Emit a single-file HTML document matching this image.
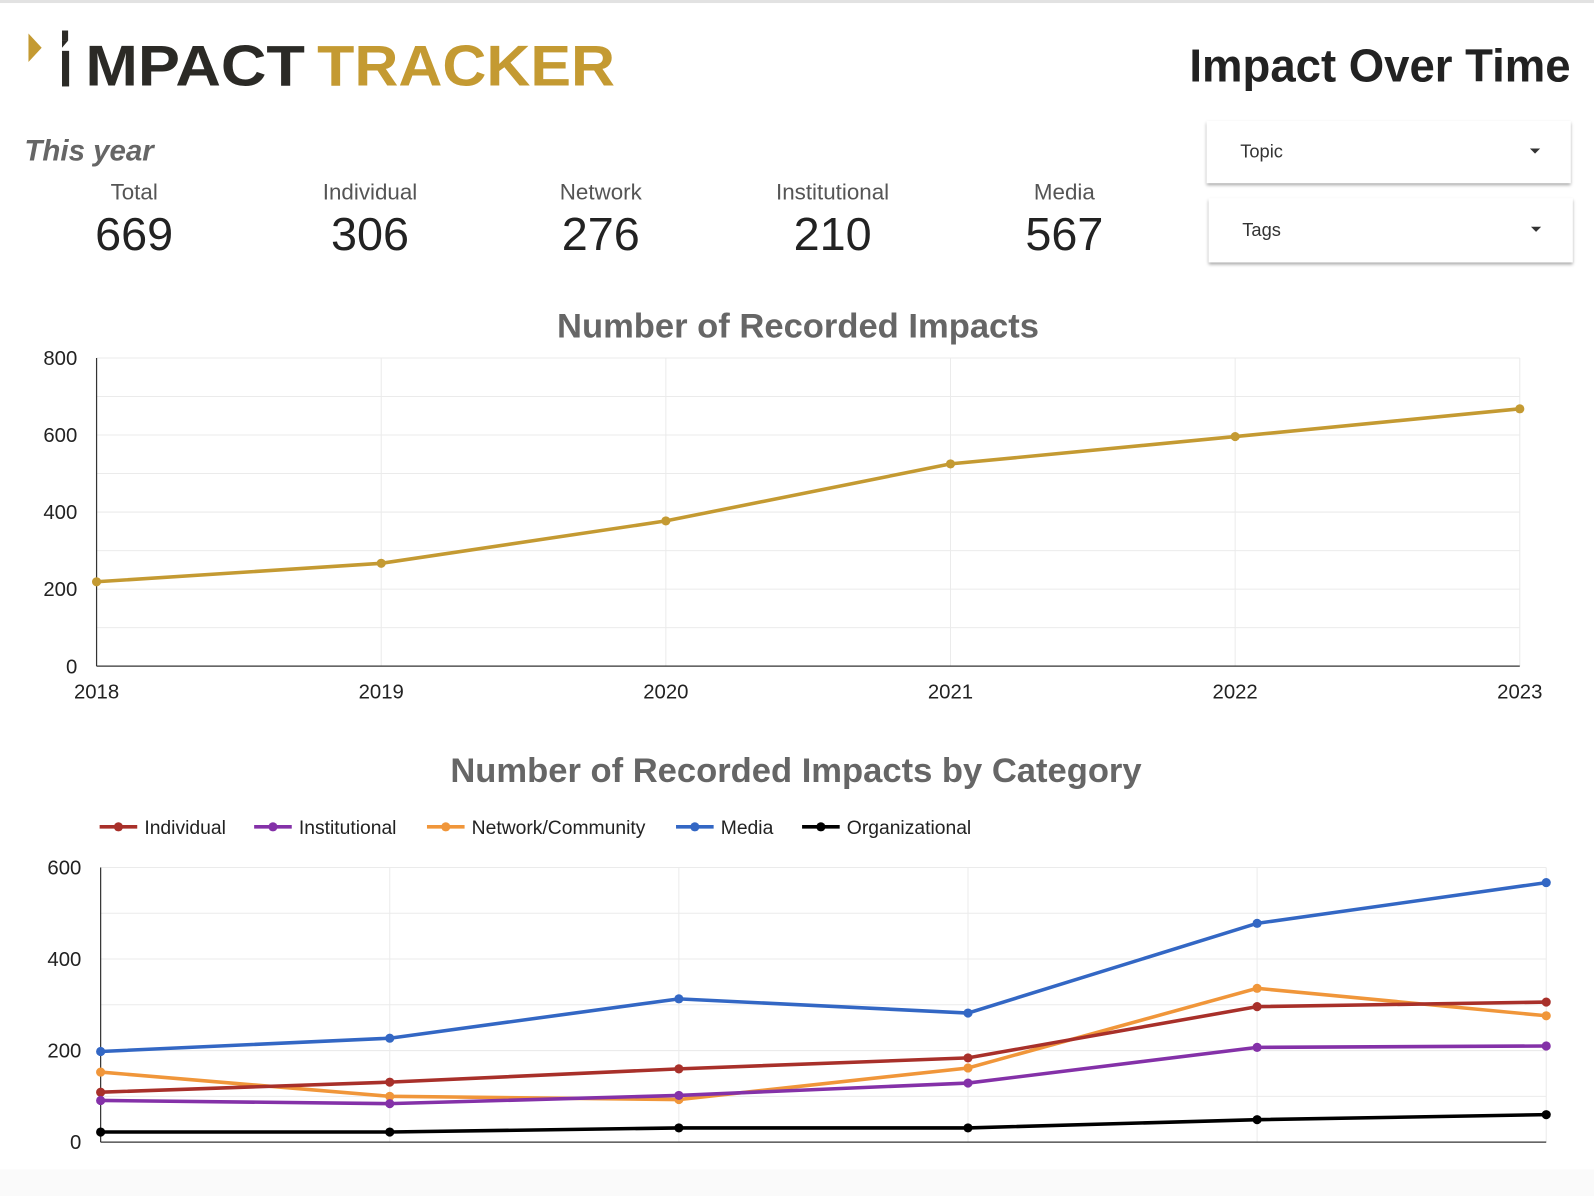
<!DOCTYPE html>
<html><head><meta charset="utf-8">
<style>
html,body{margin:0;padding:0;background:#fff;overflow:hidden;}
svg{display:block;font-family:"Liberation Sans",sans-serif;}
</style></head>
<body>
<svg id="page" width="1594" height="1196" viewBox="0 0 1568 1176" preserveAspectRatio="none" xmlns="http://www.w3.org/2000/svg">
<defs>
<filter id="sh" x="-5%" y="-20%" width="110%" height="150%"><feDropShadow dx="0" dy="2" stdDeviation="1.6" flood-color="#000" flood-opacity="0.35"/></filter>
</defs>
<rect x="0" y="0" width="1568" height="1176" fill="#fff"/>
<rect x="0" y="0" width="1568" height="3" fill="#e2e2e2"/>
<rect x="0" y="1150" width="1568" height="26" fill="#fafafa"/>

<g>
<polygon points="28,33 41,47 28,61" fill="#c49a32"/>
<rect x="61" y="30" width="6" height="10" fill="#2b2a26"/>
<polygon points="61,40 67,40 61,47 61,53 67,53 67,59 61,52" fill="#2b2a26"/>
<rect x="61" y="50" width="7" height="35" fill="#2b2a26"/>
<text x="84" y="84" font-size="57" font-weight="bold" fill="#2b2a26" textLength="216" lengthAdjust="spacingAndGlyphs">MPACT</text>
<text x="312" y="84" font-size="57" font-weight="bold" fill="#c49a32" textLength="293" lengthAdjust="spacingAndGlyphs">TRACKER</text>
</g>
<text x="1545" y="80" text-anchor="end" font-size="46" font-weight="bold" fill="#222" textLength="375" lengthAdjust="spacingAndGlyphs">Impact Over Time</text>
<text x="24" y="158" font-size="29" font-weight="bold" font-style="italic" fill="#666">This year</text>

<g><text x="132" y="196" text-anchor="middle" font-size="22" fill="#555">Total</text><text x="132" y="246" text-anchor="middle" font-size="46" fill="#222">669</text></g>
<g><text x="364" y="196" text-anchor="middle" font-size="22" fill="#555">Individual</text><text x="364" y="246" text-anchor="middle" font-size="46" fill="#222">306</text></g>
<g><text x="591" y="196" text-anchor="middle" font-size="22" fill="#555">Network</text><text x="591" y="246" text-anchor="middle" font-size="46" fill="#222">276</text></g>
<g><text x="819" y="196" text-anchor="middle" font-size="22" fill="#555">Institutional</text><text x="819" y="246" text-anchor="middle" font-size="46" fill="#222">210</text></g>
<g><text x="1047" y="196" text-anchor="middle" font-size="22" fill="#555">Media</text><text x="1047" y="246" text-anchor="middle" font-size="46" fill="#222">567</text></g>

<g>
<rect x="1187" y="119" width="358" height="61" fill="#fff" filter="url(#sh)"/>
<text x="1220" y="155" font-size="18" fill="#333">Topic</text>
<polygon points="1505,146 1515,146 1510,151" fill="#333"/>
</g>
<g>
<rect x="1189" y="195" width="358" height="63" fill="#fff" filter="url(#sh)"/>
<text x="1222" y="232" font-size="18" fill="#333">Tags</text>
<polygon points="1506,223 1516,223 1511,228" fill="#333"/>
</g>

<text x="785" y="332" text-anchor="middle" font-size="34" font-weight="bold" fill="#666">Number of Recorded Impacts</text>
<g id="c1"></g>

<text x="783" y="769" text-anchor="middle" font-size="34" font-weight="bold" fill="#666">Number of Recorded Impacts by Category</text>
<g id="legend"></g>
<g id="c2"></g>
</svg>
<script>
const years = ["2018","2019","2020","2021","2022","2023"];
const totalValues = [219, 267, 377, 525, 596, 668];
const totalTicks = [0, 200, 400, 600, 800];
const catNames = ["Individual","Institutional","Network/Community","Media","Organizational"];
const individualValues = [109, 131, 160, 184, 296, 306];
const institutionalValues = [91, 84, 102, 129, 207, 210];
const networkValues = [153, 100, 93, 162, 336, 276];
const mediaValues = [198, 227, 313, 282, 478, 567];
const organizationalValues = [22, 22, 31, 31, 49, 60];
const catTicks = [0, 200, 400, 600];

const NS = "http://www.w3.org/2000/svg";
function mk(parent, tag, attrs){const e=document.createElementNS(NS,tag);for(const k in attrs)e.setAttribute(k,attrs[k]);parent.appendChild(e);return e;}

// Chart 1
(function(){
  const g=document.getElementById('c1');
  const x0=95,x1=1495,y0=655,y1=352,max=800;
  const xs=i=>x0+(x1-x0)*i/(years.length-1);
  const ys=v=>y0-(y0-y1)*v/max;
  for(let v=100;v<=max;v+=100){const l=mk(g,'line',{x1:x0,x2:x1,y1:ys(v),y2:ys(v),stroke:'#ebebeb','stroke-width':1});
  
  }
  years.forEach((y,i)=>{if(i>0){const l=mk(g,'line',{x1:xs(i),x2:xs(i),y1:y1,y2:y0,stroke:'#ebebeb'});
  
  }
  const t=mk(g,'text',{x:xs(i),y:687,'text-anchor':'middle','font-size':20,fill:'#222'});t.textContent=y;
  
  });
  totalTicks.forEach(v=>{const t=mk(g,'text',{x:76,y:ys(v)+7,'text-anchor':'end','font-size':20,fill:'#222'});t.textContent=v;
  
  });
  mk(g,'line',{x1:x0,x2:x0,y1:y1,y2:y0,stroke:'#333','stroke-width':1.2});
  mk(g,'line',{x1:x0,x2:x1,y1:y0,y2:y0,stroke:'#333','stroke-width':1.2});
  const p=mk(g,'polyline',{points:totalValues.map((v,i)=>xs(i)+','+ys(v)).join(' '),fill:'none',stroke:'#c49a32','stroke-width':3.5});
  
  
  totalValues.forEach((v,i)=>{const c=mk(g,'circle',{cx:xs(i),cy:ys(v),r:4.5,fill:'#c49a32'});
  
  });
})();

// Chart 2
(function(){
  const g=document.getElementById('c2');
  const x0=99,x1=1521,y0=1123,y1=853,max=600;
  const xs=i=>x0+(x1-x0)*i/(years.length-1);
  const ys=v=>y0-(y0-y1)*v/max;
  for(let v=100;v<=max;v+=100){const l=mk(g,'line',{x1:x0,x2:x1,y1:ys(v),y2:ys(v),stroke:'#ebebeb'});
  
  }
  years.forEach((y,i)=>{if(i>0){const l=mk(g,'line',{x1:xs(i),x2:xs(i),y1:y1,y2:y0,stroke:'#ebebeb'});
  
  }});
  catTicks.forEach(v=>{const t=mk(g,'text',{x:80,y:ys(v)+7,'text-anchor':'end','font-size':20,fill:'#222'});t.textContent=v;
  
  });
  mk(g,'line',{x1:x0,x2:x0,y1:y1,y2:y0,stroke:'#333','stroke-width':1.2});
  mk(g,'line',{x1:x0,x2:x1,y1:y0,y2:y0,stroke:'#333','stroke-width':1.2});
  const series=[[mediaValues,'#3367c4','media'],[networkValues,'#f0963a','network'],[individualValues,'#a8302a','individual'],[institutionalValues,'#8431a8','institutional'],[organizationalValues,'#000','organizational']];
  series.forEach(([vals,col,nm])=>{
    const p=mk(g,'polyline',{points:vals.map((v,i)=>xs(i)+','+ys(v)).join(' '),fill:'none',stroke:col,'stroke-width':3.5});
    
    
    vals.forEach((v,i)=>{const c=mk(g,'circle',{cx:xs(i),cy:ys(v),r:4.5,fill:col});
    
    });
  });
  // legend
  const lg=document.getElementById('legend');
  const cols=['#a8302a','#8431a8','#f0963a','#3367c4','#000'];
  const lx=[98,250,420,665,789];
  catNames.forEach((n,i)=>{
    const e=mk(lg,'g',{});
    
    
    mk(e,'line',{x1:lx[i],x2:lx[i]+37,y1:813,y2:813,stroke:cols[i],'stroke-width':3.5});
    mk(e,'circle',{cx:lx[i]+18.5,cy:813,r:4.5,fill:cols[i]});
    const t=mk(e,'text',{x:lx[i]+44,y:820,'font-size':19,fill:'#222'});t.textContent=n;
  });
})();
</script>
</body></html>
